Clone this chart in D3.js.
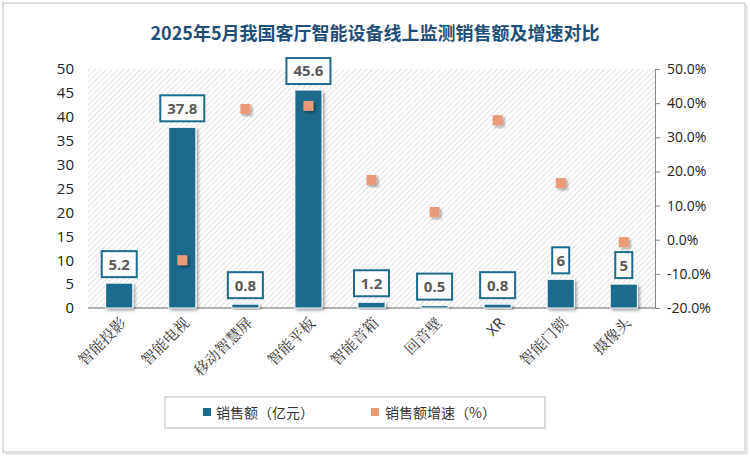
<!DOCTYPE html>
<html><head><meta charset="utf-8">
<script src="https://cdn.jsdelivr.net/npm/d3@7"></script>
<style>body{margin:0;background:#fff}svg{display:block}</style></head>
<body><script>
const categories=["智能投影","智能电视","移动智慧屏","智能平板","智能音箱","回音壁","XR","智能门锁","摄像头"];
const sales=[5.2,37.8,0.8,45.6,1.2,0.5,0.8,6,5];
const growth=[null,-6.0,38.3,39.2,17.5,8.1,35.0,16.6,-0.7];
const leftTicks=[0,5,10,15,20,25,30,35,40,45,50];
const rightTicks=[-20,-10,0,10,20,30,40,50];
const W=750,H=457,m={l:88,r:95,t:69,b:149};
const svg=d3.select("body").append("svg").attr("width",W).attr("height",H);
const defs=svg.append("defs");
const pat=defs.append("pattern").attr("id","hatch").attr("width",4).attr("height",4).attr("patternUnits","userSpaceOnUse").attr("patternTransform","rotate(45)");
pat.append("rect").attr("width",4).attr("height",4).attr("fill","#fff");
pat.append("line").attr("x1",0).attr("y1",0).attr("x2",0).attr("y2",4).attr("stroke","#d9d9d9").attr("stroke-width",1.5);
const f=defs.append("filter").attr("id","sh").attr("x","-30%").attr("y","-30%").attr("width","160%").attr("height","160%");
f.append("feDropShadow").attr("dx",2).attr("dy",2).attr("stdDeviation",1.5).attr("flood-color","#000").attr("flood-opacity",0.35);
svg.append("rect").attr("x",3).attr("y",3).attr("width",W-8).attr("height",H-8).attr("fill","#fff").attr("stroke","#d0d0d0").attr("stroke-width",1.5);
svg.append("line").attr("x1",W-4).attr("x2",W-4).attr("y1",5).attr("y2",H-3).attr("stroke","#e0e0e0").attr("stroke-width",3);
svg.append("line").attr("x1",5).attr("x2",W-3).attr("y1",H-4).attr("y2",H-4).attr("stroke","#e0e0e0").attr("stroke-width",3);
svg.append("text").attr("x",375).attr("y",40).attr("text-anchor","middle").attr("font-family","Noto Sans CJK SC").attr("font-weight","bold").attr("font-size",18).attr("fill","#1f4e79").text("2025年5月我国客厅智能设备线上监测销售额及增速对比");
const x=d3.scaleBand().domain(categories).range([m.l,W-m.r]).paddingInner(0.57).paddingOuter(0.28);
const y=d3.scaleLinear().domain([0,50]).range([H-m.b,m.t]);
const y2=d3.scaleLinear().domain([-20,50]).range([H-m.b,m.t]);
svg.append("rect").attr("x",m.l).attr("y",m.t).attr("width",W-m.r-m.l).attr("height",H-m.b-m.t).attr("fill","url(#hatch)");
const gl=svg.append("g").attr("transform",`translate(${m.l},0)`).call(d3.axisLeft(y).tickValues(leftTicks).tickSize(0).tickPadding(14));
gl.select(".domain").remove();
gl.selectAll("text").attr("font-family","Open Sans, Noto Sans").attr("font-size",15).attr("fill","#222");
const gr=svg.append("g").attr("transform",`translate(${W-m.r},0)`).call(d3.axisRight(y2).tickValues(rightTicks).tickFormat(d=>d.toFixed(1)+"%").tickSize(5).tickPadding(7));
gr.selectAll("line,.domain").attr("stroke","#888");
gr.selectAll("text").attr("font-family","Open Sans, Noto Sans").attr("font-size",14).attr("fill","#222");
svg.append("line").attr("x1",m.l).attr("x2",W-m.r).attr("y1",y(0)).attr("y2",y(0)).attr("stroke","#999").attr("stroke-width",1.5);
svg.selectAll(".bar").data(sales).join("rect").attr("x",(d,i)=>x(categories[i])).attr("width",x.bandwidth()).attr("y",d=>y(d)).attr("height",d=>y(0)-y(d)).attr("fill","#1c6a8c").attr("stroke","#fff").attr("stroke-width",1).attr("filter","url(#sh)");
const lab=svg.selectAll(".lab").data(sales).join("g").attr("transform",(d,i)=>`translate(${x(categories[i])+x.bandwidth()/2},${y(d)-19})`);
const hw=d=>(String(d).length*9+8)/2;
lab.append("rect").attr("x",d=>-hw(d)).attr("width",d=>2*hw(d)).attr("y",-13).attr("height",26).attr("fill","#fff").attr("stroke","#1c6a8c").attr("stroke-width",2);
lab.append("text").attr("text-anchor","middle").attr("dy","0.36em").attr("font-family","Open Sans, Noto Sans").attr("font-weight","bold").attr("font-size",15).attr("fill","#595959").text(d=>d);
svg.selectAll(".pt").data(growth.map((g,i)=>({g,c:categories[i]})).filter(d=>d.g!==null)).join("rect").attr("x",d=>x(d.c)+x.bandwidth()/2-5).attr("y",d=>y2(d.g)-5).attr("width",10).attr("height",10).attr("fill","#eb9a78").attr("filter","url(#sh)");
svg.selectAll(".xl").data(categories).join("text").attr("transform",d=>`translate(${x(d)+x.bandwidth()/2+8},${y(0)+16}) rotate(-45)`).attr("text-anchor","end").attr("font-family",d=>d==="XR"?"Open Sans":"Noto Serif CJK SC, Noto Sans CJK SC").attr("font-size",15).attr("fill","#333").text(d=>d);
const lg=svg.append("g");
lg.append("rect").attr("x",165).attr("y",397).attr("width",380).attr("height",31).attr("fill","#fff").attr("stroke","#d0d0d0").attr("stroke-width",1.5);
lg.append("rect").attr("x",203).attr("y",408).attr("width",8).attr("height",8).attr("fill","#1c6a8c");
lg.append("text").attr("x",216).attr("y",418).attr("font-family","Noto Sans CJK SC").attr("font-size",14).attr("fill","#333").text("销售额（亿元）");
lg.append("rect").attr("x",371).attr("y",408).attr("width",8).attr("height",8).attr("fill","#eb9a78");
lg.append("text").attr("x",385).attr("y",418).attr("font-family","Noto Sans CJK SC").attr("font-size",14).attr("fill","#333").text("销售额增速（%）");
</script></body></html>
